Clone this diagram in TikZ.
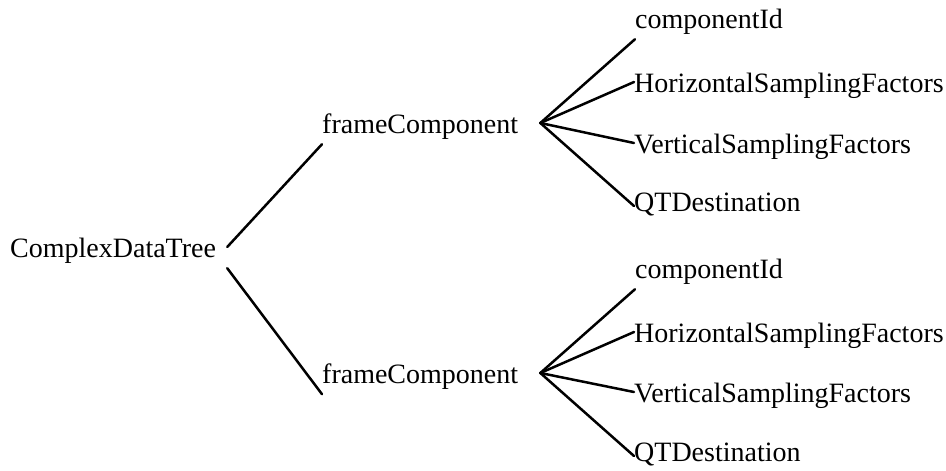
\documentclass[tikz,border=0pt]{standalone}
\usepackage{fontspec}
\setmainfont{Liberation Serif}

\tikzset{
  item/.style={font=\fontsize{28}{32}\selectfont, anchor=base west,
    inner xsep=0pt, inner ysep=11pt, text height=20pt, text depth=0pt},
  branch/.style={line width=2.5pt, line cap=round}
}

\begin{document}
\begin{tikzpicture}[line join=round,x=1pt,y=-1pt]
\useasboundingbox (0,0) rectangle (946,471);
\node[item,inner xsep=11pt] (tree) at (-1,257) {ComplexDataTree};
\node[item] (comp1) at (322,133) {frameComponent};
\node[item] (comp2) at (322,383) {frameComponent};
\coordinate (fan1) at ([xshift=22pt]comp1.east);
\coordinate (fan2) at ([xshift=22pt]comp2.east);
% leaves of the first frame component
\node[item] (id1) at (635,28) {componentId};
\node[item] (hsf1) at (634,92) {HorizontalSamplingFactors};
\node[item] (vsf1) at (634,153) {VerticalSamplingFactors};
\node[item] (qt1) at (634,211) {QTDestination};
% leaves of the second frame component
\node[item] (id2) at (635,278) {componentId};
\node[item] (hsf2) at (634,342) {HorizontalSamplingFactors};
\node[item] (vsf2) at (634,402) {VerticalSamplingFactors};
\node[item] (qt2) at (634,461) {QTDestination};
\draw[branch] (tree.east) -- (comp1.south west);
\draw[branch] (tree.south east) -- (comp2.south west);
\foreach \k in {1,2} {
  \draw[branch] (fan\k) -- (id\k.south west);
  \draw[branch] (fan\k) -- (hsf\k.west);
  \draw[branch] (fan\k) -- (vsf\k.west);
  \draw[branch] (fan\k) -- ([yshift=-5pt]qt\k.west);
}
\end{tikzpicture}
\end{document}
